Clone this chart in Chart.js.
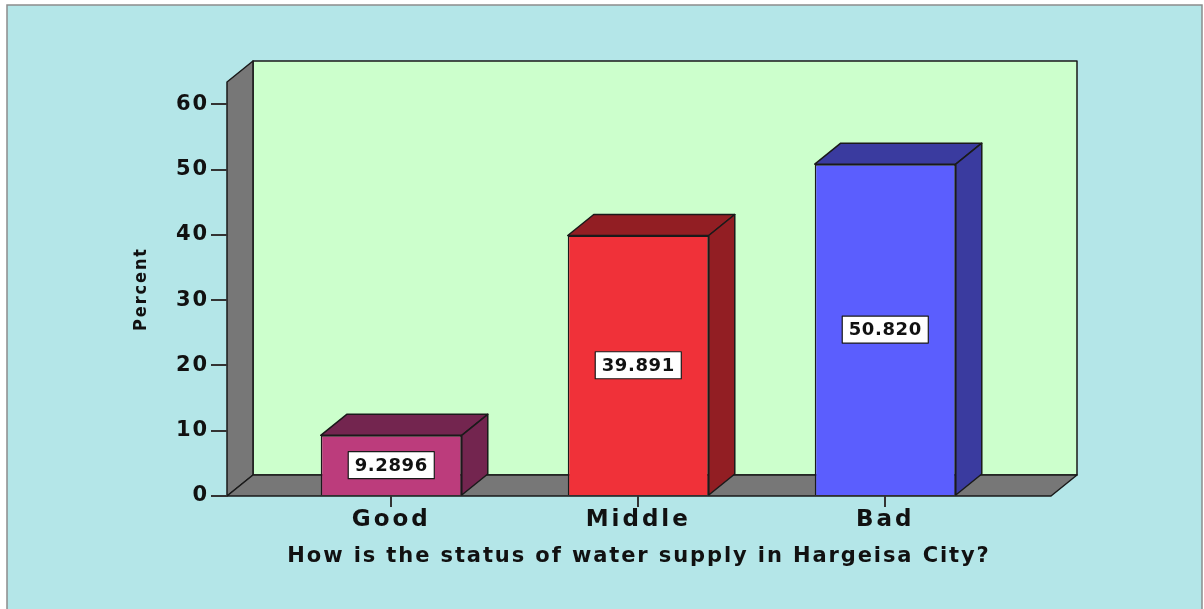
<!DOCTYPE html>
<html>
<head>
<meta charset="utf-8">
<script src="https://cdn.jsdelivr.net/npm/chart.js@4.4.1/dist/chart.umd.min.js"></script>
<style>
  html, body { margin: 0; padding: 0; background: #fff; }
  #wrap { width: 1204px; height: 609px; }
</style>
</head>
<body>
<div id="wrap"><canvas id="chart" width="1204" height="609"></canvas></div>
<script>
// data
const categories = ["Good", "Middle", "Bad"];
const percents = [9.2896, 39.891, 50.82];
const yTicks = [0, 10, 20, 30, 40, 50, 60];

const frontColors = ["#bc3c7c", "#f03139", "#5b5efe"];
const shadeColors = ["#73254f", "#921e23", "#3a3b9f"];
const bg = "#b4e6e8";
const wallGreen = "#ccffcc";
const wallGray = "#777777";
const edge = "#1a1a1a";
const depth = { dx: 26, dy: -21 };
const fontFamily = '"DejaVu Sans", Verdana, sans-serif';
const narrowFamily = '"Liberation Sans Narrow", "Arial Narrow", "DejaVu Sans Condensed", "Liberation Sans", sans-serif';

function poly(ctx, pts, fill) {
  ctx.beginPath();
  ctx.moveTo(pts[0][0], pts[0][1]);
  for (let i = 1; i < pts.length; i++) ctx.lineTo(pts[i][0], pts[i][1]);
  ctx.closePath();
  ctx.fillStyle = fill;
  ctx.fill();
  ctx.stroke();
}

const box3d = {
  id: "box3d",
  beforeDraw(chart) {
    const ctx = chart.ctx;
    const { left, right, top, bottom } = chart.chartArea;
    const { dx, dy } = depth;
    ctx.save();
    ctx.fillStyle = "#fff";
    ctx.fillRect(0, 0, chart.width, chart.height);
    ctx.fillStyle = bg;
    ctx.fillRect(7, 5, chart.width - 9, chart.height);
    ctx.strokeStyle = "#8c8c8c";
    ctx.lineWidth = 1.5;
    ctx.strokeRect(7, 5, chart.width - 9, chart.height + 10);

    ctx.strokeStyle = edge;
    ctx.lineWidth = 1.5;
    ctx.lineJoin = "round";
    // back wall
    poly(ctx, [[left + dx, top + dy], [right + dx, top + dy], [right + dx, bottom + dy], [left + dx, bottom + dy]], wallGreen);
    // left wall
    poly(ctx, [[left, bottom], [left, top], [left + dx, top + dy], [left + dx, bottom + dy]], wallGray);
    // floor
    poly(ctx, [[left, bottom], [right, bottom], [right + dx, bottom + dy], [left + dx, bottom + dy]], wallGray);
    ctx.restore();
    // titles + y ticks are drawn before the datasets
    ctx.letterSpacing = "1.9px";
  },
  afterDatasetsDraw(chart) {
    const ctx = chart.ctx;
    const { dx, dy } = depth;
    const meta = chart.getDatasetMeta(0);
    ctx.save();
    ctx.strokeStyle = edge;
    ctx.lineWidth = 1.5;
    ctx.lineJoin = "round";
    meta.data.forEach((bar, i) => {
      const { x, y, base, width } = bar.getProps(["x", "y", "base", "width"], true);
      const l = x - width / 2, r = x + width / 2;
      poly(ctx, [[l, y], [r, y], [r + dx, y + dy], [l + dx, y + dy]], shadeColors[i]);
      poly(ctx, [[r, y], [r, base], [r + dx, base + dy], [r + dx, y + dy]], shadeColors[i]);

      // value label box
      const txt = percents[i].toPrecision(5);
      ctx.letterSpacing = "0.6px";
      ctx.font = "bold 18px " + fontFamily;
      const w = ctx.measureText(txt).width + 13;
      const cy = (y + base) / 2;
      ctx.fillStyle = "#fff";
      ctx.fillRect(x - w / 2, cy - 13.5, w, 27);
      ctx.lineWidth = 1.2;
      ctx.strokeRect(x - w / 2, cy - 13.5, w, 27);
      ctx.lineWidth = 1.5;
      ctx.fillStyle = "#111";
      ctx.textAlign = "center";
      ctx.textBaseline = "middle";
      ctx.fillText(txt, x, cy + 1);
    });
    ctx.restore();
    // category labels (ticks.z = 1) come after this
    ctx.letterSpacing = "3px";
  },
};

new Chart(document.getElementById("chart"), {
  type: "bar",
  data: {
    datasets: [
      {
        data: percents.map((v, i) => ({ x: i + 1, y: v })),
        backgroundColor: frontColors,
        borderColor: edge,
        borderWidth: 1.5,
        barPercentage: 0.571,
        categoryPercentage: 1,
      },
    ],
  },
  options: {
    responsive: false,
    animation: false,
    layout: { padding: { top: 82, right: 153, left: 0, bottom: 0 } },
    plugins: {
      legend: { display: false },
      tooltip: { enabled: false },
    },
    scales: {
      x: {
        type: "linear",
        offset: false,
        min: 0.335,
        max: 3.671,
        afterBuildTicks: (s) => {
          s.ticks = categories.map((c, i) => ({ value: i + 1 }));
        },
        afterFit: (s) => {
          s.height = 113;
        },
        ticks: {
          callback: (v) => categories[v - 1],
          color: "#111",
          font: { family: fontFamily, size: 23, weight: "bold" },
          padding: -1,
          maxRotation: 0,
          z: 1,
        },
        grid: { offset: false, drawOnChartArea: false, tickLength: 11, color: "#333", lineWidth: 2 },
        border: { display: false },
        title: {
          display: true,
          text: "How is the status of water supply in Hargeisa City?",
          color: "#111",
          font: { family: fontFamily, size: 21, weight: "bold" },
          padding: { bottom: 40 },
        },
      },
      y: {
        min: 0,
        max: 63.4,
        afterBuildTicks: (s) => {
          s.ticks = yTicks.map((v) => ({ value: v }));
        },
        afterFit: (s) => {
          s.width = 227;
        },
        ticks: {
          color: "#111",
          font: { family: fontFamily, size: 21, weight: "bold" },
          padding: 2,
        },
        grid: { drawOnChartArea: false, tickLength: 16, color: "#333", lineWidth: 2 },
        border: { display: false },
        title: {
          display: true,
          text: "Percent",
          color: "#111",
          font: { family: narrowFamily, size: 18, weight: "bold" },
          padding: { top: 131 },
        },
      },
    },
  },
  plugins: [box3d],
});
</script>
</body>
</html>
